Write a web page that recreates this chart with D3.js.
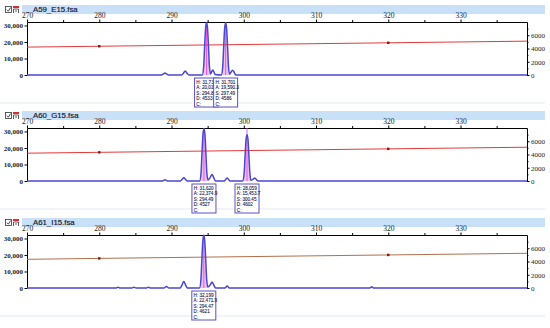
<!DOCTYPE html>
<html>
<head>
<meta charset="utf-8">
<script src="https://cdn.jsdelivr.net/npm/d3@7"></script>
<style>
  body { margin: 0; background: #fff; }
  svg { display: block; }
</style>
</head>
<body>
<script>
// sample names, one per panel
const sampleNames = ["A59_E15.fsa", "A60_G15.fsa", "A61_I15.fsa"];

// tick labels
const xTicks = [270, 280, 290, 300, 310, 320, 330];
const xMinorTicks = [275, 285, 295, 305, 315, 325, 335];
const leftTicks = [0, 10000, 20000, 30000];
const rightTicks = [0, 2000, 4000, 6000];
const rightMinorTicks = [1000, 3000, 5000, 7000];

// electropherogram traces [size bp, RFU]
const traceA59 = [
  [270, 0], [288.6, 0], [288.85, 500], [289.1, 1200], [289.35, 500], [289.6, 0],
  [291.4, 0], [291.65, 1100], [291.9, 2400], [292.15, 1100], [292.4, 0],
  [294.25, 0], [294.45, 5000], [294.57, 16000], [294.71, 28000], [294.85, 31732], [294.99, 28000], [295.13, 16000], [295.25, 5000], [295.42, 600],
  [295.55, 2000], [295.7, 3000], [295.85, 2000], [296.05, 300],
  [296.89, 0], [297.09, 5000], [297.21, 16000], [297.35, 28000], [297.49, 31701], [297.63, 28000], [297.77, 16000], [297.89, 5000], [298.05, 500],
  [298.25, 1800], [298.45, 2900], [298.65, 1800], [298.9, 0],
  [339.2, 0]
];
const traceA60 = [
  [270, 0], [288.75, 0], [289.1, 700], [289.45, 0],
  [291.2, 0], [291.45, 900], [291.7, 2000], [291.95, 900], [292.2, 0],
  [293.89, 0], [294.09, 5000], [294.21, 16000], [294.35, 28000], [294.49, 31620], [294.63, 28000], [294.77, 16000], [294.89, 5000], [295.05, 600],
  [295.4, 2500], [295.6, 4000], [295.8, 2500], [296.1, 0],
  [297.3, 0], [297.5, 900], [297.7, 1800], [297.9, 900], [298.1, 0],
  [299.85, 0], [300.05, 4500], [300.17, 14000], [300.31, 25000], [300.45, 28059], [300.59, 25000], [300.73, 14000], [300.85, 4500], [301.0, 400],
  [301.3, 1100], [301.5, 1800], [301.7, 1100], [302.0, 0],
  [339.2, 0]
];
const traceA61 = [
  [270, 0], [282.3, 0], [282.6, 500], [282.9, 0], [284.5, 0], [284.8, 400], [285.1, 0],
  [286.5, 0], [286.8, 500], [287.1, 0], [288.95, 0], [289.3, 900], [289.65, 0],
  [291.2, 0], [291.45, 1800], [291.7, 3900], [291.95, 1800], [292.2, 0],
  [293.87, 0], [294.07, 5000], [294.19, 16000], [294.33, 28000], [294.47, 32199], [294.61, 28000], [294.75, 16000], [294.87, 5000], [295.03, 600],
  [295.4, 2200], [295.6, 3600], [295.8, 2200], [296.1, 0],
  [297.4, 0], [297.7, 1200], [298.0, 0], [317.45, 0], [317.7, 700], [317.95, 0],
  [339.2, 0]
];

// sizing curve [size bp, data point] on the right axis
const sizingA59 = [[270, 4210], [280, 4340], [320, 4860], [339.2, 5110]];
const sizingA60 = [[270, 4200], [280, 4330], [320, 4850], [339.2, 5100]];
const sizingA61 = [[270, 4330], [280, 4470], [320, 4990], [339.2, 5240]];
const sizingMarks = [280, 320];

// called peaks: size, height, area, data point
const peaksA59 = [
  { s: 294.85, h: "31,732", a: "20,013", d: "4533" },
  { s: 297.49, h: "31,701", a: "19,590.3", d: "4586" }
];
const peaksA60 = [
  { s: 294.49, h: "31,620", a: "22,374.9", d: "4527" },
  { s: 300.45, h: "28,059", a: "15,453.7", d: "4602" }
];
const peaksA61 = [
  { s: 294.47, h: "32,199", a: "22,471.9", d: "4621" }
];

let panels = [
  { name: sampleNames[0], trace: traceA59, sizing: sizingA59, peaks: peaksA59, sizeColor: "#e23a3a" },
  { name: sampleNames[1], trace: traceA60, sizing: sizingA60, peaks: peaksA60, sizeColor: "#e23a3a" },
  { name: sampleNames[2], trace: traceA61, sizing: sizingA61, peaks: peaksA61, sizeColor: "#b0704c" }
];
const panelOffsets = [0, 106, 213];

const W = 550, H = 328;
let svg = d3.select("body").append("svg").attr("width", W).attr("height", H);

let xScale = d3.scaleLinear().domain([270, 339.2]).range([27, 527]);
let yLeft = d3.scaleLinear().domain([0, 32100]).range([75, 22]);
let yRight = d3.scaleLinear().domain([0, 8000]).range([75, 22]);

let defs = svg.append("defs");
defs.append("clipPath").attr("id", "plotClip")
  .append("rect").attr("x", 27).attr("y", 21.5).attr("width", 500).attr("height", 60);

const serif = "'Liberation Serif', 'DejaVu Serif', serif";
const sans = "'Liberation Sans', 'DejaVu Sans', sans-serif";

function styleAxis(g, size) {
  g.selectAll("path").attr("stroke", "#000");
  g.selectAll("line").attr("stroke", "#000");
  g.selectAll("text").attr("font-family", serif).attr("font-size", size).attr("fill", "#222");
}

panels.forEach((p, i) => {
  let g = svg.append("g").attr("transform", `translate(0,${panelOffsets[i]})`);

  // header strip
  g.append("rect").attr("x", 22).attr("y", 5).attr("width", 523).attr("height", 9).attr("fill", "#c8e0f8");
  g.append("line").attr("x1", 0).attr("x2", 545).attr("y1", 103).attr("y2", 103)
    .attr("stroke", "#e2ebf5").attr("stroke-width", 1);
  // checkbox icon
  g.append("rect").attr("x", 5.5).attr("y", 6.5).attr("width", 6).attr("height", 6)
    .attr("fill", "#fff").attr("stroke", "#333").attr("stroke-width", 0.8);
  g.append("path").attr("d", "M6.8,9.6 L8.3,11.2 L10.6,7.6").attr("fill", "none")
    .attr("stroke", "#333").attr("stroke-width", 0.9);
  // trace icon
  g.append("rect").attr("x", 13).attr("y", 6).attr("width", 6).attr("height", 2).attr("fill", "#d83030");
  g.append("path").attr("d", "M13.5,13 L13.5,9 L18.5,9 L18.5,13 M15,11 L17,11").attr("fill", "none")
    .attr("stroke", "#333").attr("stroke-width", 0.8);
  g.append("text").attr("x", 33).attr("y", 12.4).text(p.name)
    .attr("font-family", sans).attr("font-size", "7.8px").attr("fill", "#10102a")
    .attr("stroke", "#10102a").attr("stroke-width", 0.15);

  // axes
  let topAxis = g.append("g").attr("transform", "translate(0,22)")
    .call(d3.axisTop(xScale).tickValues(xTicks).tickSize(2.5).tickSizeOuter(0).tickPadding(1.5).tickFormat(d3.format("d")));
  styleAxis(topAxis, "7.5px");
  let topMinor = g.append("g").attr("transform", "translate(0,22)")
    .call(d3.axisTop(xScale).tickValues(xMinorTicks).tickSize(2).tickSizeOuter(0).tickFormat(""));
  styleAxis(topMinor, "7px");
  topMinor.select("path").remove();

  let leftAxis = g.append("g").attr("transform", "translate(27,0)")
    .call(d3.axisLeft(yLeft).tickValues(leftTicks).tickSize(2.5).tickSizeOuter(0).tickPadding(1.5).tickFormat(d3.format(",")));
  styleAxis(leftAxis, "7px");
  leftAxis.selectAll("text").attr("font-weight", "bold");

  let rightAxis = g.append("g").attr("transform", "translate(527,0)")
    .call(d3.axisRight(yRight).tickValues(rightTicks).tickSize(2.5).tickSizeOuter(0).tickPadding(1.5).tickFormat(d3.format("d")));
  styleAxis(rightAxis, "7px");
  let rightMinor = g.append("g").attr("transform", "translate(527,0)")
    .call(d3.axisRight(yRight).tickValues(rightMinorTicks).tickSize(1.5).tickFormat(""));
  styleAxis(rightMinor, "7px");
  rightMinor.select("path").remove();

  let plot = g.append("g").attr("clip-path", "url(#plotClip)");

  // called peak fill
  let line = d3.line().x(d => xScale(d[0])).y(d => yLeft(d[1])).curve(d3.curveMonotoneX);
  let area = d3.area().x(d => xScale(d[0])).y0(yLeft(0)).y1(d => yLeft(d[1])).curve(d3.curveMonotoneX);
  p.peaks.forEach((pk, k) => {
    let id = `peakClip${i}_${k}`;
    defs.append("clipPath").attr("id", id).append("rect")
      .attr("x", xScale(pk.s - 0.5)).attr("y", 0)
      .attr("width", xScale(pk.s + 0.5) - xScale(pk.s - 0.5)).attr("height", 100);
    plot.append("g").attr("clip-path", `url(#${id})`)
      .append("path").datum(p.trace).attr("d", area).attr("fill", "#f0c0ee");
    plot.append("line")
      .attr("x1", xScale(pk.s)).attr("x2", xScale(pk.s))
      .attr("y1", yLeft(0)).attr("y2", 22)
      .attr("stroke", "#e050e0").attr("stroke-width", 0.9);
  });

  // sizing curve
  plot.append("path").datum(p.sizing)
    .attr("d", d3.line().x(d => xScale(d[0])).y(d => yRight(d[1])).curve(d3.curveMonotoneX))
    .attr("fill", "none").attr("stroke", p.sizeColor).attr("stroke-width", 1);
  plot.selectAll(".mark").data(sizingMarks).enter().append("rect")
    .attr("x", d => xScale(d) - 1.2)
    .attr("y", d => yRight(p.sizing.find(s => s[0] === d)[1]) - 1.2)
    .attr("width", 2.4).attr("height", 2.4).attr("fill", "#8a1010");

  // trace
  plot.append("path").datum(p.trace).attr("d", line)
    .attr("fill", "none").attr("stroke", "#4a46d0").attr("stroke-width", 1.5);

  // peak label boxes
  p.peaks.forEach(pk => {
    let bx = xScale(pk.s) - 12, by = yLeft(0) + 3;
    let box = g.append("g").attr("transform", `translate(${bx},${by})`);
    box.append("rect").attr("width", 24).attr("height", 29)
      .attr("fill", "#fff").attr("stroke", "#5a50c8").attr("stroke-width", 1);
    let lines = [`H: ${pk.h}`, `A: ${pk.a}`, `S: ${pk.s.toFixed(2)}`, `D: ${pk.d}`, "C:"];
    box.selectAll("text").data(lines).enter().append("text")
      .attr("x", 1.8).attr("y", (d, j) => 5.6 + j * 5.6)
      .text(d => d)
      .attr("font-family", sans).attr("font-size", "4.6px").attr("fill", "#1a1a50")
      .attr("stroke", "#1a1a50").attr("stroke-width", 0.1);
  });
});
</script>
</body>
</html>
